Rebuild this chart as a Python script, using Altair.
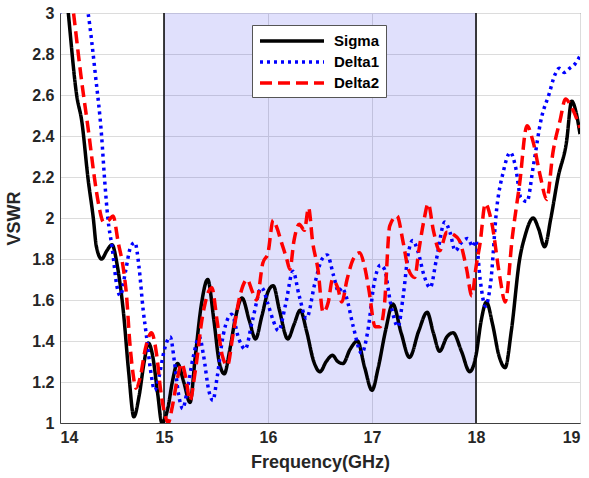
import altair as alt
import pandas as pd

# Frequency (GHz) / VSWR samples for each port
sigma_f = [14.0, 14.08, 14.16, 14.21, 14.27, 14.32, 14.35, 14.40, 14.45, 14.50, 14.55, 14.61, 14.66,
           14.71, 14.76, 14.81, 14.85, 14.89, 14.94, 14.98, 15.04, 15.08, 15.13, 15.19, 15.25, 15.30,
           15.36, 15.42, 15.48, 15.53, 15.58, 15.63, 15.69, 15.75, 15.82, 15.88, 15.94, 16.00, 16.05,
           16.11, 16.19, 16.25, 16.31, 16.37, 16.44, 16.50, 16.56, 16.62, 16.67, 16.72, 16.79, 16.86,
           16.93, 17.00, 17.06, 17.13, 17.20, 17.28, 17.36, 17.45, 17.53, 17.59, 17.65, 17.72, 17.78,
           17.86, 17.94, 18.00, 18.05, 18.10, 18.16, 18.22, 18.28, 18.34, 18.42, 18.47, 18.55, 18.60,
           18.66, 18.72, 18.79, 18.87, 18.92, 18.96, 19.0]
sigma_v = [3.45, 3.0, 2.6, 2.47, 2.19, 2.0, 1.86, 1.80, 1.84, 1.87, 1.77, 1.54, 1.25,
           1.03, 1.13, 1.30, 1.39, 1.33, 1.14, 1.0, 1.08, 1.20, 1.29, 1.20, 1.10, 1.32,
           1.58, 1.70, 1.50, 1.30, 1.24, 1.35, 1.52, 1.61, 1.50, 1.41, 1.52, 1.64, 1.67,
           1.55, 1.41, 1.48, 1.55, 1.45, 1.30, 1.25, 1.30, 1.33, 1.30, 1.29, 1.36, 1.40,
           1.27, 1.16, 1.27, 1.45, 1.58, 1.44, 1.32, 1.45, 1.54, 1.44, 1.35, 1.42, 1.44,
           1.35, 1.25, 1.33, 1.50, 1.59, 1.48, 1.33, 1.27, 1.45, 1.80, 1.91, 2.0, 1.95,
           1.86, 2.0, 2.20, 2.37, 2.57, 2.52, 2.41]

delta1_f = [14.0, 14.08, 14.18, 14.27, 14.34, 14.40, 14.43, 14.46, 14.50, 14.55, 14.58, 14.63, 14.68,
            14.72, 14.76, 14.80, 14.83, 14.87, 14.91, 14.95, 15.0, 15.06, 15.10, 15.14, 15.18, 15.22,
            15.28, 15.34, 15.38, 15.43, 15.47, 15.51, 15.57, 15.65, 15.72, 15.78, 15.85, 15.94, 16.00,
            16.05, 16.10, 16.17, 16.24, 16.30, 16.37, 16.45, 16.52, 16.57, 16.63, 16.68, 16.71, 16.75,
            16.82, 16.90, 16.96, 17.02, 17.08, 17.12, 17.18, 17.25, 17.30, 17.35, 17.39, 17.44, 17.50,
            17.56, 17.62, 17.70, 17.75, 17.80, 17.86, 17.92, 17.97, 18.0, 18.04, 18.09, 18.14, 18.20,
            18.26, 18.33, 18.38, 18.43, 18.49, 18.55, 18.63, 18.70, 18.76, 18.80, 18.85, 18.90, 18.95,
            19.0]
delta1_v = [3.0, 3.15, 3.2, 3.0, 2.7, 2.4, 2.18, 2.0, 1.86, 1.66, 1.62, 1.74, 1.86,
            1.88, 1.76, 1.55, 1.43, 1.26, 1.16, 1.22, 1.35, 1.42, 1.30, 1.14, 1.07, 1.15,
            1.32, 1.42, 1.33, 1.16, 1.11, 1.22, 1.43, 1.53, 1.41, 1.36, 1.50, 1.66, 1.58,
            1.50, 1.45, 1.58, 1.74, 1.62, 1.51, 1.68, 1.80, 1.82, 1.72, 1.64, 1.66, 1.62,
            1.47, 1.34, 1.45, 1.68, 1.77, 1.75, 1.58, 1.47, 1.62, 1.83, 1.89, 1.84, 1.72,
            1.66, 1.80, 1.98, 1.93, 1.84, 1.88, 1.90, 1.86, 1.89, 1.70, 1.57, 1.68, 2.05,
            2.22, 2.32, 2.25, 2.10, 2.08, 2.25, 2.49, 2.60, 2.70, 2.73, 2.71, 2.73, 2.75,
            2.79]

delta2_f = [14.0, 14.13, 14.20, 14.28, 14.33, 14.37, 14.42, 14.47, 14.51, 14.56, 14.61, 14.64, 14.67,
            14.70, 14.73, 14.77, 14.82, 14.88, 14.93, 14.97, 15.01, 15.04, 15.08, 15.13, 15.17, 15.21,
            15.25, 15.30, 15.37, 15.46, 15.51, 15.56, 15.61, 15.66, 15.73, 15.80, 15.85, 15.89, 15.95,
            16.00, 16.05, 16.08, 16.13, 16.18, 16.21, 16.25, 16.30, 16.35, 16.39, 16.43, 16.48, 16.53,
            16.58, 16.62, 16.67, 16.71, 16.76, 16.82, 16.88, 16.93, 16.97, 17.03, 17.08, 17.12, 17.17,
            17.24, 17.30, 17.35, 17.41, 17.45, 17.50, 17.54, 17.59, 17.65, 17.72, 17.78, 17.84, 17.91,
            17.96, 18.0, 18.04, 18.09, 18.15, 18.23, 18.28, 18.35, 18.42, 18.49, 18.55, 18.62, 18.68,
            18.74, 18.81, 18.86, 18.92, 19.0]
delta2_v = [3.52, 3.0, 2.7, 2.4, 2.2, 2.07, 1.98, 1.99, 2.01, 1.88, 1.75, 1.62, 1.40,
            1.25, 1.17, 1.22, 1.36, 1.44, 1.33, 1.15, 1.04, 1.0, 1.08, 1.22, 1.29, 1.22,
            1.11, 1.25, 1.52, 1.66, 1.50, 1.33, 1.28, 1.42, 1.62, 1.70, 1.64, 1.60, 1.78,
            1.83, 1.99, 1.96, 1.88, 1.80, 1.75, 1.89, 1.97, 1.94, 2.05, 1.88, 1.75, 1.54,
            1.59, 1.70, 1.66, 1.59, 1.70, 1.80, 1.83, 1.76, 1.65, 1.47, 1.47, 1.58, 1.96,
            2.01, 1.88, 1.75, 1.71, 1.84, 1.99, 2.07, 1.94, 1.84, 1.93, 1.92, 1.89, 1.75,
            1.62, 1.76, 1.88, 2.07, 1.98, 1.71, 1.59, 1.91, 2.17, 2.45, 2.37, 2.20, 2.09,
            2.32, 2.48, 2.58, 2.54, 2.44]

series_names = ["Sigma", "Delta1", "Delta2"]
series_colors = ["#000000", "#0000FF", "#FF0000"]
series_dash = [[1, 0], [3, 4], [12, 6]]

# Operating band (GHz)
band_start = [15]
band_end = [18]
x_ticks = [14, 15, 16, 17, 18, 19]
y_ticks = [1, 1.2, 1.4, 1.6, 1.8, 2, 2.2, 2.4, 2.6, 2.8, 3]

curves = pd.concat([
    pd.DataFrame({"f": sigma_f, "v": sigma_v, "s": "Sigma"}),
    pd.DataFrame({"f": delta1_f, "v": delta1_v, "s": "Delta1"}),
    pd.DataFrame({"f": delta2_f, "v": delta2_v, "s": "Delta2"}),
], ignore_index=True)
curves["order"] = curves["s"].map({n: i for i, n in enumerate(series_names)})

band = pd.DataFrame({"start": band_start, "end": band_end, "lo": [1], "hi": [3]})
edges = pd.DataFrame({"f": band_start + band_end, "lo": [1, 1], "hi": [3, 3]})

FONT = "Liberation Sans"
TXT = "#262626"

x_scale = alt.Scale(domain=[14, 19], nice=False)
y_scale = alt.Scale(domain=[1, 3], nice=False)

x_axis = alt.Axis(values=x_ticks, format="d", title="Frequency(GHz)", grid=True)
y_axis = alt.Axis(values=y_ticks, format="~g", title="VSWR", grid=True)

shade = alt.Chart(band).mark_rect(color="#0000E6", opacity=0.12).encode(
    x=alt.X("start:Q", scale=x_scale, axis=x_axis),
    x2="end:Q",
    y=alt.Y("lo:Q", scale=y_scale, axis=y_axis),
    y2="hi:Q",
)

edge_lines = alt.Chart(edges).mark_rule(color="#000000", strokeWidth=1.5).encode(
    x=alt.X("f:Q", scale=x_scale),
    y=alt.Y("lo:Q", scale=y_scale),
    y2="hi:Q",
)

# Long horizontal legend sample: a unit path stretched well past the symbol size
legend_stroke = "M-1,0H7"

lines = alt.Chart(curves).mark_line(
    interpolate="monotone", strokeWidth=3.5, clip=True, strokeCap="butt"
).encode(
    x=alt.X("f:Q", scale=x_scale),
    y=alt.Y("v:Q", scale=y_scale),
    color=alt.Color(
        "s:N",
        scale=alt.Scale(domain=series_names, range=series_colors),
        legend=alt.Legend(
            title=None, orient="none", legendX=192, legendY=12,
            symbolType=legend_stroke, symbolSize=256, symbolStrokeWidth=3.5,
            labelFontSize=15, labelFontWeight="bold", labelFont=FONT, labelColor="#000000",
            fillColor="#FFFFFF", strokeColor="#555555", padding=6, rowPadding=3,
            labelOffset=56,
        ),
    ),
    strokeDash=alt.StrokeDash(
        "s:N",
        scale=alt.Scale(domain=series_names, range=series_dash),
        legend=None,
    ),
    order="order:Q",
    detail="s:N",
)

chart = alt.layer(shade, edge_lines, lines).properties(
    width=520, height=410,
    padding={"left": 60, "top": 13, "right": 9, "bottom": 55},
    autosize=alt.AutoSizeParams(type="none"),
).configure_view(
    stroke="#555555", strokeWidth=1,
).configure_axis(
    labelFont=FONT, labelFontSize=16, labelFontWeight="bold", labelColor=TXT,
    titleFont=FONT, titleFontSize=18, titleFontWeight="bold", titleColor=TXT,
    gridColor="#DCDCDC", gridWidth=1, domainColor="#404040", domainWidth=1,
    ticks=False, labelPadding=6,
).configure_axisX(
    titlePadding=8,
).configure_axisY(
    titlePadding=8,
)

chart.save("out.html", embed_options={"renderer": "svg", "actions": False})
